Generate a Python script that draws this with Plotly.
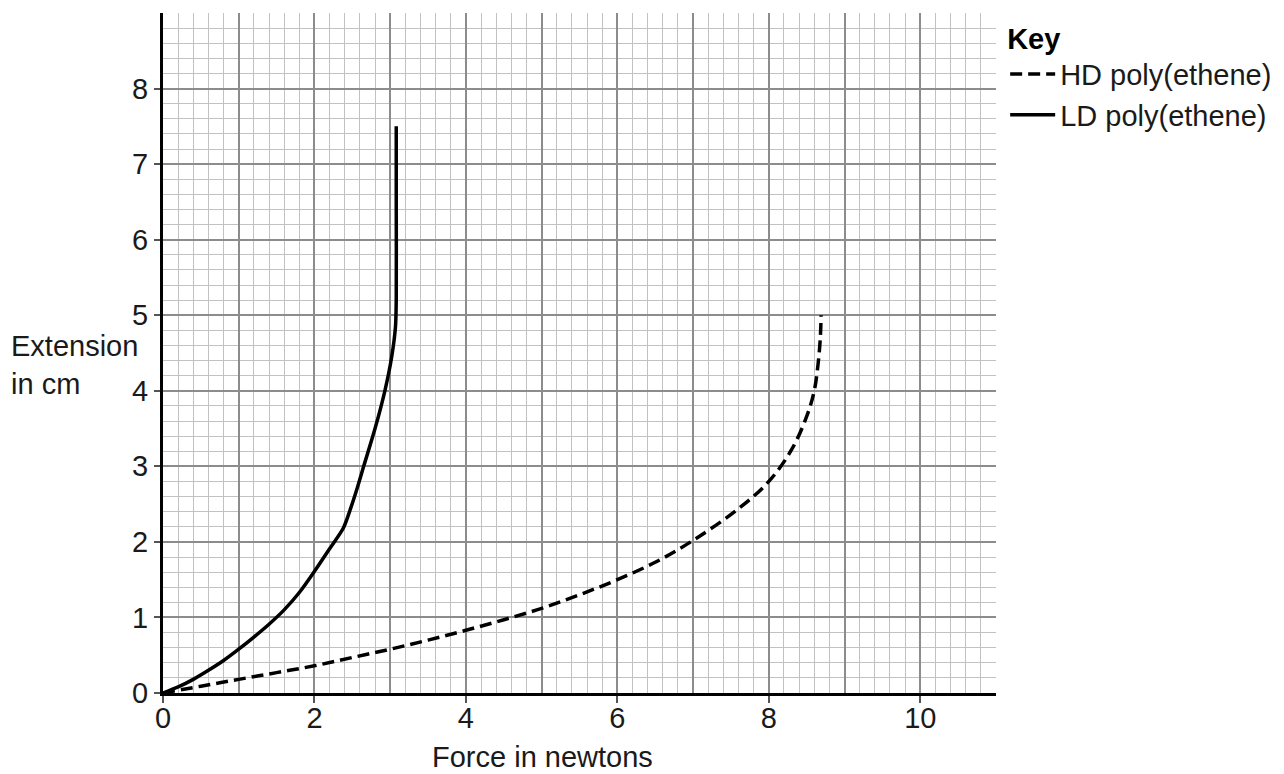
import plotly.graph_objects as go

# Force in newtons (x) and extension in cm (y)
hd_force = [0, 0.5, 1.0, 1.5, 2.0, 2.5, 3.0, 3.5, 4.0, 4.5, 5.0, 5.5, 6.0, 6.5, 7.0,
            7.6, 8.0, 8.3, 8.5, 8.6, 8.65, 8.68, 8.69]
hd_ext = [0, 0.09, 0.18, 0.27, 0.36, 0.47, 0.58, 0.70, 0.83, 0.97, 1.12, 1.30, 1.50, 1.73, 2.02,
          2.44, 2.80, 3.22, 3.66, 4.00, 4.35, 4.70, 5.00]

ld_force = [0, 0.2, 0.4, 0.6, 0.8, 1.0, 1.2, 1.4, 1.6, 1.8, 2.0, 2.2, 2.38, 2.48, 2.57,
            2.65, 2.80, 2.93, 3.02, 3.07, 3.08, 3.08, 3.08]
ld_ext = [0, 0.08, 0.18, 0.30, 0.43, 0.58, 0.74, 0.91, 1.10, 1.33, 1.61, 1.91, 2.18, 2.45, 2.73,
          3.00, 3.50, 4.00, 4.45, 4.85, 5.20, 6.50, 7.50]

x_ticks = [0, 2, 4, 6, 8, 10]
y_ticks = [0, 1, 2, 3, 4, 5, 6, 7, 8]

FONT = "Liberation Sans, Arial, sans-serif"
TXT = "#1a1a1a"
MAJOR = "#8c8c8c"
MINOR = "#c2c2c2"

fig = go.Figure()
fig.add_trace(go.Scatter(
    x=hd_force, y=hd_ext, mode="lines", name="HD poly(ethene)",
    line=dict(color="black", width=3.5, dash="12px,6px", shape="spline", smoothing=1.0),
    xaxis="x", yaxis="y",
))
fig.add_trace(go.Scatter(
    x=ld_force, y=ld_ext, mode="lines", name="LD poly(ethene)",
    line=dict(color="black", width=3.5, shape="spline", smoothing=0.8),
    xaxis="x2", yaxis="y",
))

fig.update_layout(
    width=1284, height=774, autosize=False,
    margin=dict(l=155, r=296, t=3, b=89),
    paper_bgcolor="white", plot_bgcolor="white",
    font=dict(family=FONT, size=29, color=TXT),
    xaxis=dict(
        range=[0, 11], tickvals=x_ticks, ticks="outside", ticklen=7, tickwidth=1.5,
        tickcolor="#555", showline=True, linecolor="black", linewidth=3,
        showgrid=True, gridcolor=MAJOR, gridwidth=2, zeroline=False,
        tickfont=dict(size=29, color=TXT), ticklabelstandoff=-10,
        minor=dict(dtick=0.2, showgrid=True, gridcolor=MINOR, gridwidth=1.2, ticks=""),
        fixedrange=True,
    ),
    xaxis2=dict(
        range=[0, 11], overlaying="x", anchor="y", side="bottom", dtick=1,
        showgrid=True, gridcolor=MAJOR, gridwidth=2, showticklabels=False,
        ticks="", showline=False, zeroline=False, fixedrange=True,
    ),
    yaxis=dict(
        range=[0, 9], tickvals=y_ticks, ticks="outside", ticklen=6, tickwidth=1.5,
        tickcolor="#555", showline=True, linecolor="black", linewidth=3,
        showgrid=True, gridcolor=MAJOR, gridwidth=2, zeroline=False,
        tickfont=dict(size=29, color=TXT),
        minor=dict(dtick=0.2, showgrid=True, gridcolor=MINOR, gridwidth=1.2, ticks=""),
        fixedrange=True,
    ),
    legend=dict(
        x=1.011, y=1.003, xanchor="left", yanchor="top",
        title=dict(text="<b>Key</b>", font=dict(size=29, color="black")),
        font=dict(size=29, color=TXT), bgcolor="rgba(0,0,0,0)",
        itemwidth=45, tracegroupgap=0,
    ),
    annotations=[
        dict(text="Extension<br>in cm", xref="paper", yref="paper", x=-0.1849, y=0.483,
             xanchor="left", yanchor="middle", align="left", showarrow=False,
             font=dict(size=29, color=TXT)),
        dict(text="Force in newtons", xref="paper", yref="paper", x=0.456, y=-0.094,
             xanchor="center", yanchor="middle", showarrow=False,
             font=dict(size=29, color=TXT)),
    ],
)

fig.write_html("out.html", config={"displayModeBar": False})
